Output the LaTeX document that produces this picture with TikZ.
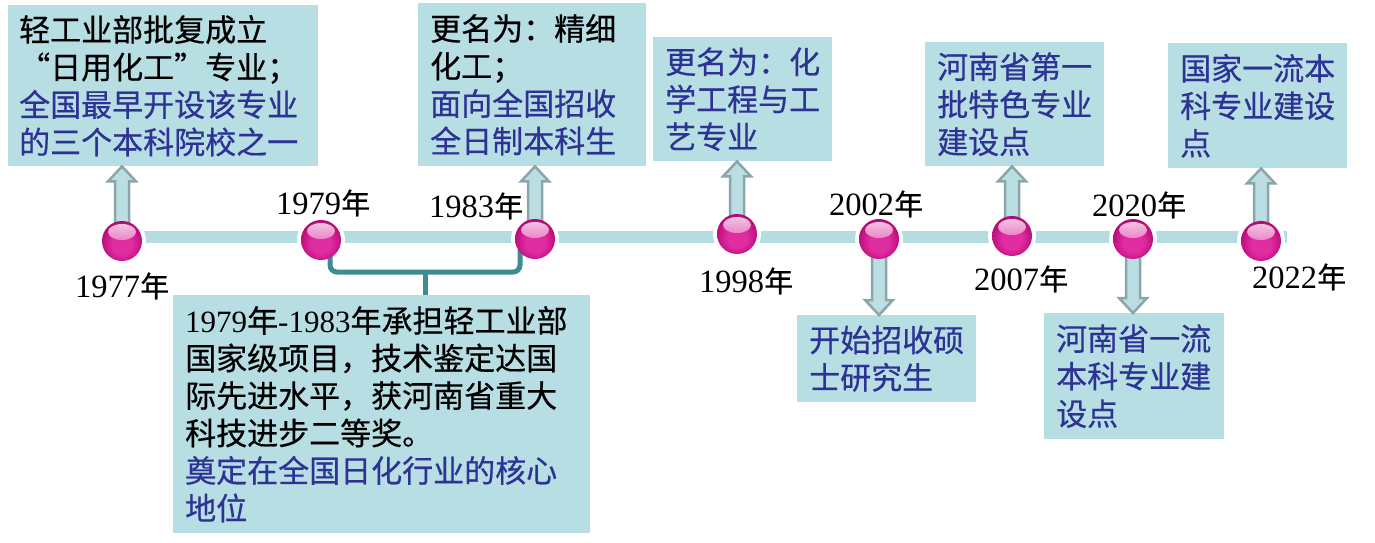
\documentclass[tikz,border=0pt]{standalone}
\usepackage{fontspec}
\setmainfont{Noto Sans CJK SC}[FakeBold=0.5]
\newfontfamily\tms{Liberation Serif}
\usetikzlibrary{calc}
\definecolor{boxc}{RGB}{183,222,227}
\definecolor{barc}{RGB}{181,220,224}
\definecolor{arrfill}{RGB}{186,222,226}
\definecolor{arrline}{RGB}{139,166,170}
\definecolor{tblue}{RGB}{46,50,148}
\definecolor{brc}{RGB}{60,140,145}
\definecolor{ballc}{RGB}{224,45,162}
\definecolor{balld}{RGB}{190,15,125}
\definecolor{balle}{RGB}{150,0,95}
\pgfdeclareradialshading{glossball}{\pgfpoint{0bp}{-6bp}}{color(0bp)=(ballc); color(12bp)=(ballc); color(25bp)=(balld); color(31bp)=(balle); color(50bp)=(balle)}
\newcommand\yr[1]{{\fontsize{32.5}{32.5}\tms\selectfont #1}{\fontsize{29}{29}\selectfont 年}}
\tikzset{
  infobox/.style={fill=boxc, anchor=north west, inner xsep=12pt, inner ysep=0pt, align=left, font=\fontsize{31}{37.5}\selectfont},
  yearlbl/.style={anchor=base west, inner sep=0pt},
  arrsty/.style={fill=arrfill, draw=arrline, line width=2.5pt, line join=miter},
  gloss/.style={circle, minimum size=40pt, inner sep=0pt, shading=glossball,
    path picture={\shade[top color=white, bottom color=ballc, opacity=.8]
      ([yshift=9pt]path picture bounding box.center) ellipse [x radius=14pt, y radius=8pt];}},
}
\newcommand\uparr[2]{\draw[arrsty] let \p1=(#1), \p2=(#2.south) in
  (\x1-7pt,\y1) -- (\x1-7pt,\y2-15pt) -- (\x1-14pt,\y2-15pt) -- (\x1,\y2) --
  (\x1+14pt,\y2-15pt) -- (\x1+7pt,\y2-15pt) -- (\x1+7pt,\y1) -- cycle;}
\newcommand\downarr[2]{\draw[arrsty] let \p1=(#1), \p2=(#2.north) in
  (\x1-7pt,\y1) -- (\x1-7pt,\y2+15pt) -- (\x1-14pt,\y2+15pt) -- (\x1,\y2) --
  (\x1+14pt,\y2+15pt) -- (\x1+7pt,\y2+15pt) -- (\x1+7pt,\y1) -- cycle;}
\begin{document}
\begin{tikzpicture}[x=1pt,y=-1pt]
\useasboundingbox (0,0) rectangle (1375,542);
% ball positions
\coordinate (p77) at (122,241);
\coordinate (p79) at (321,240);
\coordinate (p83) at (535,239);
\coordinate (p98) at (737,234);
\coordinate (p02) at (879,239);
\coordinate (p07) at (1012,236);
\coordinate (p20) at (1133,239);
\coordinate (p22) at (1261,241);
% boxes
\node[infobox, text width=288pt, minimum height=161pt, inner xsep=11pt] (b77) at (8,5)
  {轻工业部批复成立\\“日用化工”专业；\\\textcolor{tblue}{全国最早开设该专业}\\\textcolor{tblue}{的三个本科院校之一}};
\node[infobox, text width=204pt, minimum height=163pt] (b83) at (418,3)
  {更名为：精细\\化工；\\\textcolor{tblue}{面向全国招收}\\\textcolor{tblue}{全日制本科生}};
\node[infobox, text=tblue, text width=155pt, minimum height=124pt] (b98) at (653,37)
  {更名为：化\\学工程与工\\艺专业};
\node[infobox, text=tblue, text width=155pt, minimum height=124pt] (b07) at (925,42)
  {河南省第一\\批特色专业\\建设点};
\node[infobox, text=tblue, text width=155pt, minimum height=125pt] (b22) at (1168,43)
  {国家一流本\\科专业建设\\点};
\node[infobox, text width=393pt, minimum height=238pt] (b79) at (173,295)
  {{\tms 1979}年{\tms -1983}年承担轻工业部\\国家级项目，技术鉴定达国\\际先进水平，获河南省重大\\科技进步二等奖。\\\textcolor{tblue}{奠定在全国日化行业的核心}\\\textcolor{tblue}{地位}};
\node[infobox, text=tblue, text width=155pt, minimum height=87pt] (b02) at (797,315)
  {开始招收硕\\士研究生};
\node[infobox, text=tblue, text width=156pt, minimum height=126pt] (b20) at (1044,313)
  {河南省一流\\本科专业建\\设点};
% timeline bar
\coordinate (barL) at (140,237);
\coordinate (barR) at (1287,237);
\draw[barc, line width=12pt] (barL) -- (barR);
\foreach \p in {p77,p79,p83,p98,p02,p07,p20,p22}
  \fill[white] (\p) circle (24);
% arrows
\uparr{p77}{b77}
\uparr{p83}{b83}
\uparr{p98}{b98}
\uparr{p07}{b07}
\uparr{p22}{b22}
\downarr{p02}{b02}
\downarr{p20}{b20}
% bracket
\coordinate (brL) at (330,254);
\coordinate (brR) at (520,250);
\coordinate (brM) at (425,272);
\draw[brc, line width=5pt, rounded corners=7pt] (brL) |- (brM) -| (brR);
\draw[brc, line width=5pt] (brM) -- (brM |- b79.north);
% balls
\foreach \p in {p77,p79,p83,p98,p02,p07,p20,p22}
  \node[gloss] (ball\p) at (\p) {};
% year labels
\node[yearlbl] (y77) at (75,297) {\yr{1977}};
\node[yearlbl] (y79) at (276,214) {\yr{1979}};
\node[yearlbl] (y83) at (429,217) {\yr{1983}};
\node[yearlbl] (y98) at (699,292) {\yr{1998}};
\node[yearlbl] (y02) at (829,215) {\yr{2002}};
\node[yearlbl] (y07) at (974,290) {\yr{2007}};
\node[yearlbl] (y20) at (1092,216) {\yr{2020}};
\node[yearlbl] (y22) at (1252,288) {\yr{2022}};
\end{tikzpicture}
\end{document}
